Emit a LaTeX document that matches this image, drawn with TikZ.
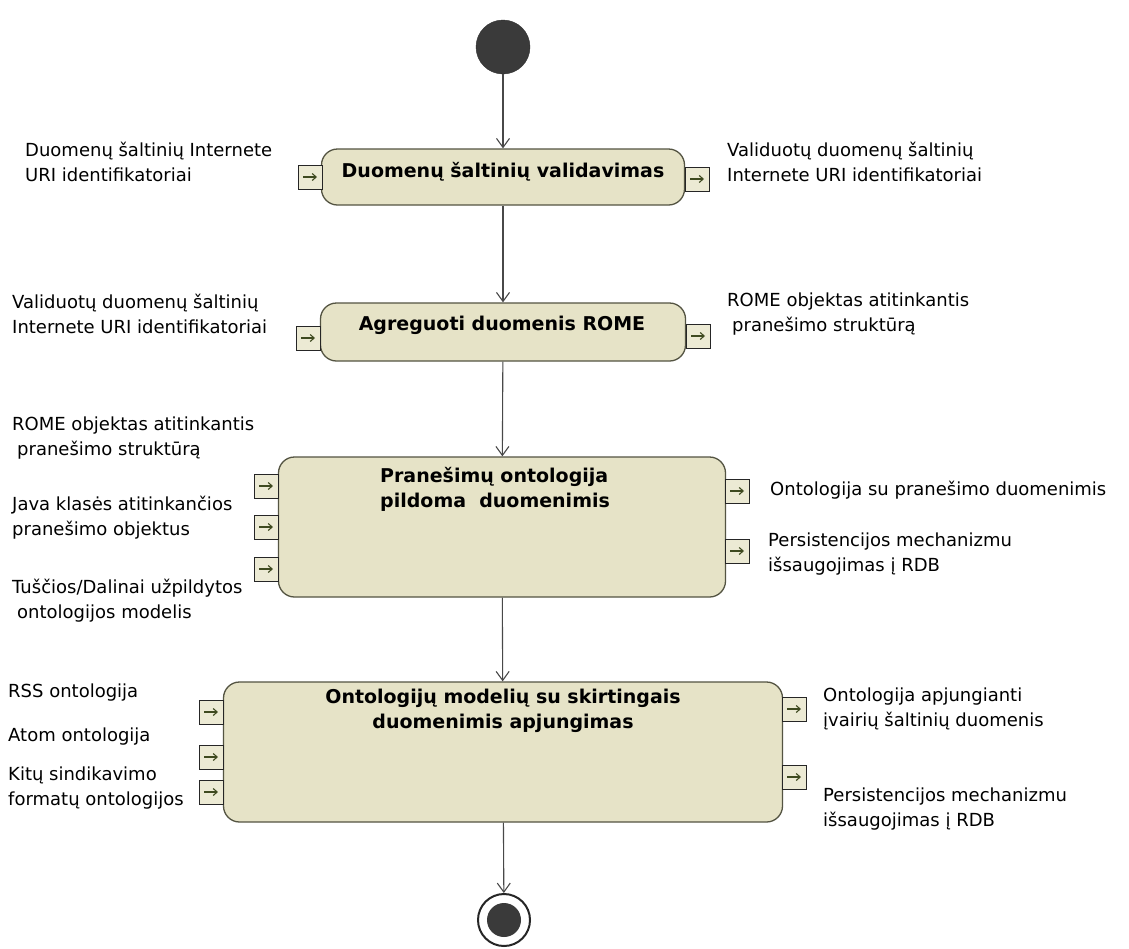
\documentclass[tikz,border=0pt]{standalone}
\usepackage{fontspec}
\setmainfont{DejaVu Sans}
\usetikzlibrary{arrows.meta}

\definecolor{actfill}{RGB}{230,227,199}
\definecolor{actline}{RGB}{84,84,66}
\definecolor{pinfill}{RGB}{236,234,212}
\definecolor{pinarrow}{RGB}{62,74,32}
\definecolor{dotfill}{RGB}{58,58,58}
\definecolor{flowline}{RGB}{72,72,72}

\tikzset{
  action/.style={draw=actline, line width=1.3pt, fill=actfill, rounded corners=16pt, inner sep=0pt},
  pinbox/.style={draw=black!85, line width=1pt, fill=pinfill, minimum width=24pt, minimum height=24pt, inner sep=0pt},
  pinarrowline/.style={draw=pinarrow, line width=1.2pt, -{Straight Barb[length=4pt,width=7pt,line width=1.1pt]}},
  title/.style={font=\fontsize{19}{25}\selectfont\bfseries, align=left, inner sep=0pt},
  note/.style={font=\fontsize{18}{25}\selectfont, align=left, anchor=west, inner sep=0pt},
  flow/.style={draw=flowline, line width=1.1pt, -{Straight Barb[length=9pt,width=13pt,line width=1.1pt]}},
  startdot/.style={circle, fill=dotfill, draw=dotfill!80!black, minimum size=54pt, inner sep=0pt},
  enddot/.style={circle, draw=black!85, line width=2pt, fill=white, minimum size=52pt, inner sep=0pt},
}

\begin{document}
\begin{tikzpicture}[x=1pt, y=-1pt]
  \useasboundingbox[fill=white] (0,0) rectangle (1129,948);

  % initial and final nodes
  \node[startdot] (start) at (503,47) {};
  \node[enddot] (end) at (504,920) {};
  \fill[dotfill] (end.center) circle (17pt);

  % actions
  \node[action, minimum width=363pt, minimum height=56pt] (b1) at (503,177) {};
  \node[action, minimum width=365pt, minimum height=58pt] (b2) at (503,332) {};
  \node[action, minimum width=447pt, minimum height=140pt] (b3) at (502,527) {};
  \node[action, minimum width=559pt, minimum height=140pt] (b4) at (503,752) {};

  \node[title, anchor=base] (t1) at (503,177) {Duomenų šaltinių validavimas};
  \node[title, anchor=base] (t2) at (502,330) {Agreguoti duomenis ROME};
  \node[title, anchor=north west] (t3) at (380,467) {Pranešimų ontologija\\pildoma\ \ duomenimis};
  \node[title, anchor=north, align=center] (t4) at (503,689) {Ontologijų modelių su skirtingais\\duomenimis apjungimas};

  % control flow
  \draw[flow] (start) -- (b1);
  \draw[flow] (b1) -- (b2);
  \draw[flow] (b2) -- (b3);
  \draw[flow] (b3) -- (b4);
  \draw[flow] (b4) -- (end);

  % pins
  \foreach \n/\x/\y in {p1a/310/177, p1b/697/179,
                        p2a/308/338, p2b/698/336,
                        p3a/266/486, p3b/266/527, p3c/266/569, p3d/737/491, p3e/737/551,
                        p4a/211/712, p4b/211/757, p4c/211/792, p4d/794/709, p4e/794/777} {
    \node[pinbox] (\n) at (\x,\y) {};
    \draw[pinarrowline] ([xshift=-7pt]\n.center) -- ([xshift=7pt]\n.center);
  }

  % pin labels
  \node[note] (l1a) at (25,162) {Duomenų šaltinių Internete\\URI identifikatoriai};
  \node[note] (l1b) at (727,162) {Validuotų duomenų šaltinių\\Internete URI identifikatoriai};
  \node[note] (l2a) at (12,314) {Validuotų duomenų šaltinių\\Internete URI identifikatoriai};
  \node[note] (l2b) at (727,314) {ROME objektas atitinkantis\\\hspace*{5pt}pranešimo struktūrą};
  \node[note] (l3a) at (12,438) {ROME objektas atitinkantis\\\hspace*{5pt}pranešimo struktūrą};
  \node[note] (l3b) at (12,518) {Java klasės atitinkančios\\pranešimo objektus};
  \node[note] (l3c) at (12,601) {Tuščios/Dalinai užpildytos\\\hspace*{5pt}ontologijos modelis};
  \node[note] (l3d) at (770,490) {Ontologija su pranešimo duomenimis};
  \node[note] (l3e) at (768,554) {Persistencijos mechanizmu\\išsaugojimas į RDB};
  \node[note] (l4a) at (8,693) {RSS ontologija};
  \node[note] (l4b) at (8,737) {Atom ontologija};
  \node[note] (l4c) at (8,788) {Kitų sindikavimo\\formatų ontologijos};
  \node[note] (l4d) at (823,709) {Ontologija apjungianti\\įvairių šaltinių duomenis};
  \node[note] (l4e) at (823,809) {Persistencijos mechanizmu\\išsaugojimas į RDB};
\end{tikzpicture}
\end{document}
